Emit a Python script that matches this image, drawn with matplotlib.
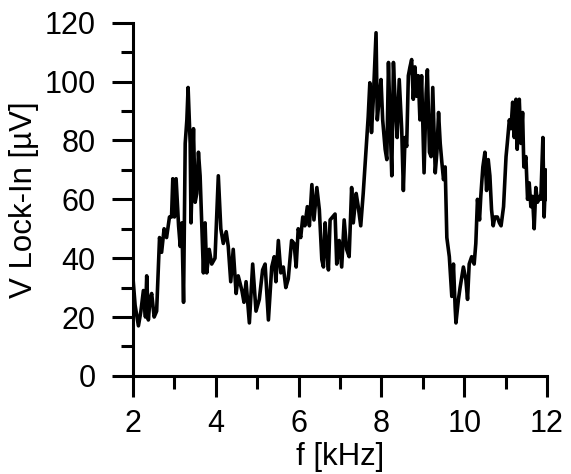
import matplotlib.pyplot as plt
from matplotlib.ticker import MultipleLocator

plt.rcParams["font.family"] = ["Liberation Sans", "DejaVu Sans"]

# Lock-in amplitude vs. modulation frequency
freq_khz = [
    2.00, 2.05, 2.13, 2.19, 2.25, 2.30, 2.33, 2.37, 2.41, 2.45, 2.51, 2.57,
    2.64, 2.69, 2.75, 2.81, 2.88, 2.93, 2.96, 3.00, 3.04, 3.10, 3.14, 3.18,
    3.22, 3.26, 3.30, 3.33, 3.38, 3.40, 3.46, 3.50, 3.54, 3.58, 3.62, 3.66,
    3.70, 3.74, 3.78, 3.84, 3.90, 3.98, 4.06, 4.12, 4.18, 4.25, 4.30, 4.36,
    4.42, 4.49, 4.54, 4.63, 4.68, 4.73, 4.81, 4.89, 4.97, 5.05, 5.13, 5.19,
    5.27, 5.35, 5.41, 5.45, 5.51, 5.57, 5.63, 5.69, 5.75, 5.83, 5.89, 5.94,
    5.99, 6.05, 6.10, 6.15, 6.21, 6.26, 6.32, 6.37, 6.44, 6.50, 6.56, 6.60,
    6.64, 6.68, 6.72, 6.76, 6.82, 6.88, 6.92, 6.98, 7.04, 7.10, 7.16, 7.22,
    7.28, 7.32, 7.39, 7.44, 7.50, 7.56, 7.63, 7.68, 7.72, 7.76, 7.80, 7.87,
    7.90, 7.95, 7.99, 8.03, 8.09, 8.13, 8.17, 8.21, 8.25, 8.29, 8.34, 8.38,
    8.43, 8.49, 8.53, 8.57, 8.61, 8.65, 8.69, 8.73, 8.77, 8.81, 8.85, 8.89,
    8.93, 8.97, 9.03, 9.08, 9.11, 9.16, 9.20, 9.24, 9.30, 9.34, 9.38, 9.42,
    9.46, 9.50, 9.54, 9.58, 9.64, 9.70, 9.74, 9.78, 9.80, 9.86, 9.90, 9.98,
    10.04, 10.08, 10.12, 10.18, 10.24, 10.28, 10.32, 10.37, 10.40, 10.45,
    10.50, 10.54, 10.58, 10.62, 10.66, 10.70, 10.74, 10.80, 10.85, 10.89,
    10.95, 11.01, 11.04, 11.09, 11.13, 11.17, 11.21, 11.25, 11.28, 11.33,
    11.37, 11.41, 11.44, 11.49, 11.53, 11.57, 11.61, 11.65, 11.69, 11.73,
    11.77, 11.82, 11.85, 11.90, 11.93, 11.97, 12.00,
]
v_lockin_uv = [
    33, 24, 17, 22, 29, 20, 34, 19, 26, 28, 20, 22,
    47, 42, 50, 47, 54, 54, 67, 54, 67, 51, 44, 52,
    25, 79, 87, 98, 79, 52, 84, 59, 62, 76, 68, 51,
    35, 52, 35, 43, 38, 40, 68, 50, 45, 49, 44, 32,
    43, 28, 34, 29, 25, 32, 18, 38, 22, 26, 36, 38,
    19, 37, 40.5, 32, 46, 35, 37, 30, 33, 46, 45, 37,
    50, 47, 54, 51, 57.5, 51, 65, 53, 64, 56.5, 39.5, 37,
    52, 43, 36, 53, 54, 55, 38, 46, 37, 53, 43, 40.5,
    64, 52, 62, 57.5, 51, 62, 77, 88, 99.6, 82.7, 93, 116.6,
    87, 95, 100.7, 87, 77, 73.5, 106.5, 86, 68, 106.5, 90.5, 81,
    100.7, 83.7, 63, 81, 78, 102, 105, 107.5, 94, 105, 95, 102,
    87, 102, 69, 96, 104, 76, 74.5, 98, 69, 76, 89.5, 79,
    72.5, 66.7, 71, 47, 40.5, 27, 38, 23.5, 18, 26, 30, 37,
    32.7, 26, 38, 40.5, 38, 45, 60, 53, 61, 71,
    76, 63, 73.5, 68, 56.5, 51, 54, 54, 52, 51,
    57.5, 74.5, 79, 87, 84, 93, 81, 94, 77, 94,
    79, 89.5, 71, 74.5, 60, 65.6, 57.5, 61, 50, 64,
    59, 61, 60, 81, 54, 70, 60,
]

fig = plt.figure(figsize=(5.71, 4.74), dpi=100)
ax = fig.add_axes([0.233, 0.207, 0.725, 0.745])

ax.plot(freq_khz, v_lockin_uv, color="black", lw=2.6, solid_joinstyle="round")

ax.set_xlim(2, 12)
ax.set_ylim(0, 120)
ax.xaxis.set_major_locator(MultipleLocator(2))
ax.xaxis.set_minor_locator(MultipleLocator(1))
ax.yaxis.set_major_locator(MultipleLocator(20))
ax.yaxis.set_minor_locator(MultipleLocator(10))

for side in ("top", "right"):
    ax.spines[side].set_visible(False)
for side in ("left", "bottom"):
    ax.spines[side].set_linewidth(2.2)

ax.tick_params(which="major", direction="out", length=15, width=2.2,
               labelsize=22)
ax.tick_params(which="minor", direction="out", length=9, width=2.2)
ax.tick_params(axis="x", which="major", pad=9)
ax.tick_params(axis="y", which="major", pad=12)

ax.set_xlabel("f [kHz]", fontsize=22.5, labelpad=2)
ax.set_ylabel("V Lock-In [µV]", fontsize=22.5, labelpad=4)

plt.savefig("out.png", dpi=100)
